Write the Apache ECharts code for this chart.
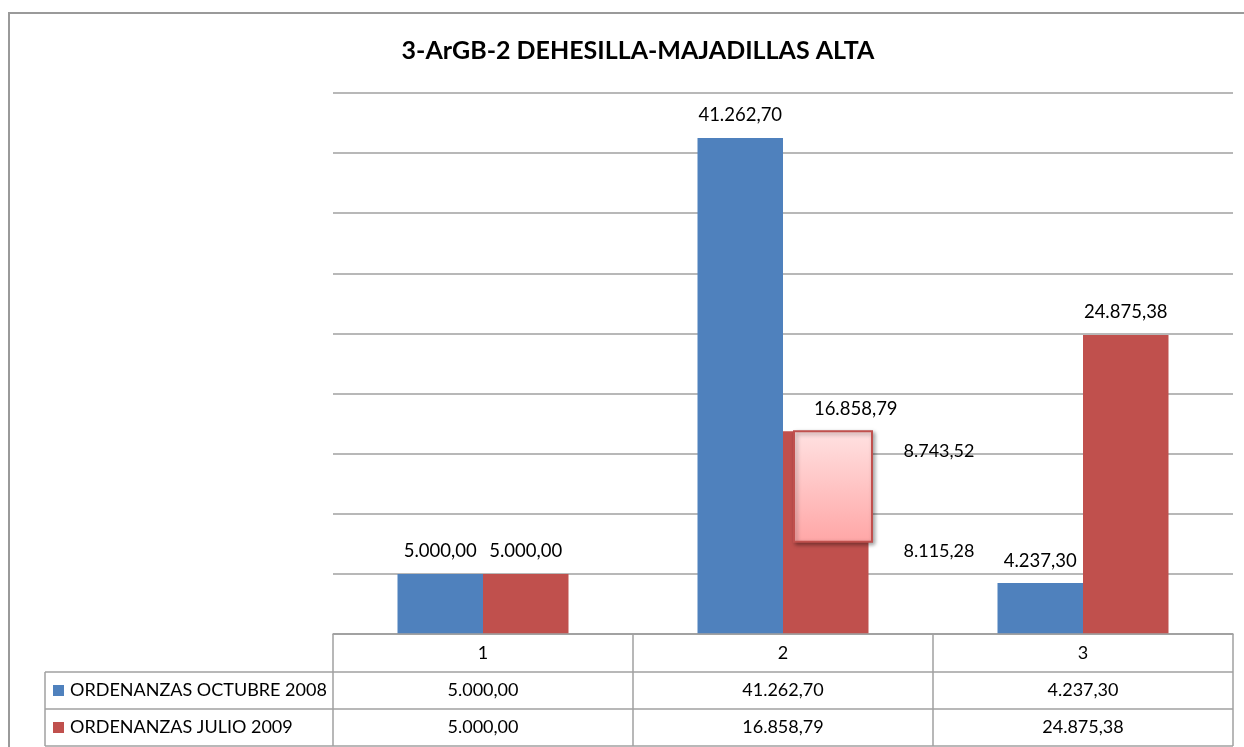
<!DOCTYPE html>
<html>
<head>
<meta charset="utf-8">
<script src="https://cdn.jsdelivr.net/npm/echarts@6/dist/echarts.min.js"></script>
<style>
  html, body { margin: 0; padding: 0; background: #fff; }
  #myChart { width: 1244px; height: 747px; }
</style>
</head>
<body>
<div id="myChart"></div>
<script>
  // datos
  const categories = ['1', '2', '3'];
  const seriesNames = ['ORDENANZAS OCTUBRE 2008', 'ORDENANZAS JULIO 2009'];
  const octubre2008 = [5000.00, 41262.70, 4237.30];
  const julio2009 = [5000.00, 16858.79, 24875.38];
  const extraLabels = [8743.52, 8115.28];   // etiquetas sueltas junto al cuadro rosa
  const yMax = 45000;
  const yStep = 5000;

  const blue = '#4F81BD';
  const red = '#C0504D';
  const lineGray = '#A0A0A0';
  const font = 'Lato, "Liberation Sans", sans-serif';

  // formato espanol 41.262,70
  function fmt (v) {
    let parts = v.toFixed(2).split('.');
    parts[0] = parts[0].replace(/\B(?=(\d{3})+(?!\d))/g, '.');
    return parts[0] + ',' + parts[1];
  }

  let myChart = echarts.init(document.getElementById('myChart'));

  const gridLeft = 333;
  const gridRight = 1233;
  const baseY = 634;

  let option = {
    animation: false,
    textStyle: { fontFamily: font },
    title: {
      text: '3-ArGB-2 DEHESILLA-MAJADILLAS ALTA',
      left: 633,
      top: 33,
      textAlign: 'center',
      textStyle: { fontSize: 25, fontWeight: 'bold', color: '#000', fontFamily: font }
    },
    grid: {
      left: gridLeft,
      right: 1244 - gridRight,
      top: 93,
      bottom: 747 - baseY
    },
    xAxis: {
      type: 'category',
      data: categories,
      axisLine: { show: true, lineStyle: { color: lineGray, width: 1.5 } },
      axisTick: { show: false },
      axisLabel: { show: false }
    },
    yAxis: {
      type: 'value',
      min: 0,
      max: yMax,
      interval: yStep,
      axisLine: { show: false },
      axisTick: { show: false },
      axisLabel: { show: false },
      splitLine: { lineStyle: { color: lineGray, width: 1.5 } }
    },
    series: [
      {
        name: seriesNames[0],
        type: 'bar',
        data: octubre2008,
        barGap: '0%',
        barCategoryGap: '43%',
        itemStyle: { color: blue },
        label: {
          show: true, position: 'top', distance: 13,
          color: '#000', fontSize: 18.5, fontFamily: font,
          formatter: p => fmt(p.value)
        }
      },
      {
        name: seriesNames[1],
        type: 'bar',
        data: julio2009.map((v, i) => i === 1
          ? { value: v, label: { offset: [30, 0] } }
          : v),
        itemStyle: { color: red },
        label: {
          show: true, position: 'top', distance: 13,
          color: '#000', fontSize: 18.5, fontFamily: font,
          formatter: p => fmt(p.value)
        }
      }
    ]
  };
  myChart.setOption(option);

  // tabla de datos y anotaciones
  let colCenters = categories.map((c, i) => myChart.convertToPixel({ xAxisIndex: 0 }, i));
  let colEdges = [gridLeft];
  for (let i = 0; i < categories.length; i++) {
    colEdges.push(gridLeft + (gridRight - gridLeft) * (i + 1) / categories.length);
  }
  const rowH = 37;
  const rows = [baseY, baseY + rowH + 1, baseY + 2 * rowH + 1, baseY + 3 * rowH + 1];
  const tableLeft = 45;
  let g = [];
  let line = (x1, y1, x2, y2) => ({
    type: 'line', silent: true, z: 100,
    shape: { x1: x1, y1: y1, x2: x2, y2: y2 },
    style: { stroke: lineGray, lineWidth: 1.5 }
  });
  let text = (x, y, t, align) => ({
    type: 'text', silent: true, z: 100, x: x, y: y,
    style: { text: t, fill: '#000', font: '18px ' + font, align: align || 'center', verticalAlign: 'middle' }
  });

  // borde exterior
  g.push({
    type: 'rect', silent: true, z: 100,
    shape: { x: 9, y: 13, width: 1250, height: 760 },
    style: { fill: null, stroke: '#9A9A9A', lineWidth: 2 }
  });

  // lineas horizontales
  g.push(line(gridLeft, rows[0], gridRight, rows[0]));
  for (let r = 1; r < rows.length; r++) g.push(line(tableLeft, rows[r], gridRight, rows[r]));
  // lineas verticales
  colEdges.forEach(x => g.push(line(x, rows[0], x, rows[3])));
  g.push(line(tableLeft, rows[1], tableLeft, rows[3]));

  // encabezado de categorias
  categories.forEach((c, i) => g.push(text(colCenters[i], (rows[0] + rows[1]) / 2, c)));
  // filas de series
  [octubre2008, julio2009].forEach((arr, s) => {
    let yc = (rows[s + 1] + rows[s + 2]) / 2;
    g.push({
      type: 'rect', silent: true, z: 100,
      shape: { x: 53, y: yc - 5.5, width: 11, height: 11 },
      style: { fill: s === 0 ? blue : red }
    });
    g.push(text(70, yc, seriesNames[s], 'left'));
    arr.forEach((v, i) => g.push(text(colCenters[i], yc, fmt(v))));
  });

  // cuadro rosa sobre la barra roja de la categoria 2
  let boxTop = myChart.convertToPixel({ yAxisIndex: 0 }, julio2009[1]);
  let boxBottom = myChart.convertToPixel({ yAxisIndex: 0 }, 7680);
  let barCenter = colCenters[1] + 43;
  g.push({
    type: 'rect', silent: true, z: 100,
    shape: { x: barCenter - 32, y: boxTop, width: 78, height: boxBottom - boxTop },
    style: {
      fill: new echarts.graphic.LinearGradient(0, 0, 0, 1, [
        { offset: 0, color: '#FFE2E2' },
        { offset: 1, color: '#FFA6A6' }
      ]),
      stroke: red, lineWidth: 2,
      shadowBlur: 4, shadowOffsetX: 2, shadowOffsetY: 2, shadowColor: 'rgba(0,0,0,0.35)'
    }
  });
  g.push(text(939, myChart.convertToPixel({ yAxisIndex: 0 }, 15200), fmt(extraLabels[0])));
  g.push(text(939, myChart.convertToPixel({ yAxisIndex: 0 }, 6870), fmt(extraLabels[1])));

  myChart.setOption({ graphic: g });
</script>
</body>
</html>
